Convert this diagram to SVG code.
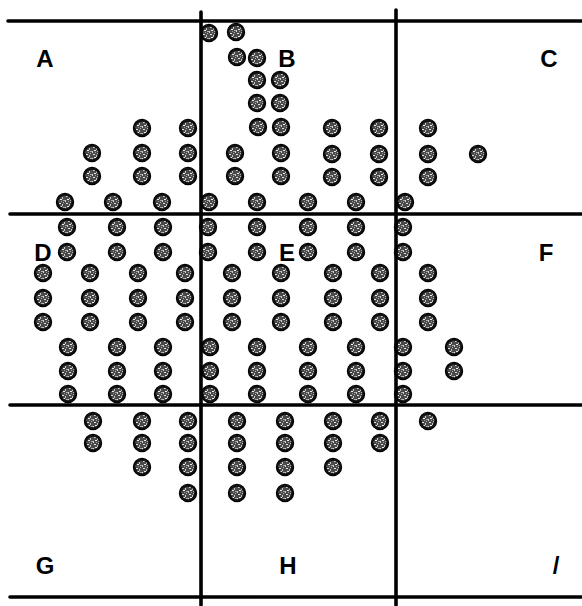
<svg xmlns="http://www.w3.org/2000/svg" xmlns:xlink="http://www.w3.org/1999/xlink" width="582" height="606" viewBox="0 0 582 606">
<defs>
<style>
.ln{stroke:#000;stroke-width:3.6;stroke-linecap:round;fill:none}
.lbl{font-family:"Liberation Sans",Arial,sans-serif;font-weight:bold;font-size:24px;fill:#000;text-anchor:middle}
.rim{fill:#111;stroke:#000;stroke-width:1.2}
.spk{fill:url(#speck)}
</style>
<pattern id="speck" width="7" height="7" patternUnits="userSpaceOnUse">
<rect x="0" y="0" width="7" height="7" fill="#4a4a4a"/>
<rect x="1" y="1" width="2" height="1" fill="#e0e0e0"/>
<rect x="4" y="2" width="1" height="2" fill="#c8c8c8"/>
<rect x="2" y="4" width="2" height="1" fill="#f0f0f0"/>
<rect x="5" y="5" width="2" height="1" fill="#aaa"/>
<rect x="0" y="5" width="1" height="2" fill="#d0d0d0"/>
<rect x="5" y="0" width="1" height="1" fill="#bbb"/>
<rect x="3" y="6" width="1" height="1" fill="#999"/>
</pattern>
<g id="dot"><circle class="rim" r="8.6"/><circle class="spk" r="6.3"/></g>
</defs>
<rect width="582" height="606" fill="#fff"/>
<g id="dots">
<use href="#dot" x="209" y="33"/><use href="#dot" x="236" y="32"/>
<use href="#dot" x="237" y="57"/><use href="#dot" x="257" y="58"/>
<use href="#dot" x="257" y="80"/><use href="#dot" x="280" y="80"/>
<use href="#dot" x="257" y="103"/><use href="#dot" x="280" y="103"/>
<use href="#dot" x="142" y="128"/><use href="#dot" x="188" y="128"/><use href="#dot" x="258" y="127"/><use href="#dot" x="281" y="127"/><use href="#dot" x="332" y="128"/><use href="#dot" x="379" y="128"/><use href="#dot" x="428" y="128"/>
<use href="#dot" x="92" y="153"/><use href="#dot" x="142" y="153"/><use href="#dot" x="188" y="153"/><use href="#dot" x="235" y="153"/><use href="#dot" x="281" y="153"/><use href="#dot" x="332" y="154"/><use href="#dot" x="379" y="154"/><use href="#dot" x="428" y="154"/><use href="#dot" x="478" y="154"/>
<use href="#dot" x="92" y="176"/><use href="#dot" x="142" y="176"/><use href="#dot" x="188" y="176"/><use href="#dot" x="235" y="176"/><use href="#dot" x="281" y="176"/><use href="#dot" x="332" y="177"/><use href="#dot" x="379" y="177"/><use href="#dot" x="428" y="177"/>
<use href="#dot" x="65" y="202"/><use href="#dot" x="113" y="202"/><use href="#dot" x="162" y="202"/><use href="#dot" x="209" y="202"/><use href="#dot" x="257" y="202"/><use href="#dot" x="308" y="202"/><use href="#dot" x="356" y="202"/><use href="#dot" x="405" y="202"/>
<use href="#dot" x="67" y="227"/><use href="#dot" x="117" y="227"/><use href="#dot" x="163" y="227"/><use href="#dot" x="208" y="227"/><use href="#dot" x="257" y="227"/><use href="#dot" x="308" y="227"/><use href="#dot" x="356" y="227"/><use href="#dot" x="403" y="227"/>
<use href="#dot" x="67" y="252"/><use href="#dot" x="117" y="252"/><use href="#dot" x="163" y="252"/><use href="#dot" x="208" y="252"/><use href="#dot" x="257" y="252"/><use href="#dot" x="308" y="252"/><use href="#dot" x="356" y="252"/><use href="#dot" x="403" y="252"/>
<use href="#dot" x="43" y="273"/><use href="#dot" x="90" y="273"/><use href="#dot" x="138" y="273"/><use href="#dot" x="185" y="273"/><use href="#dot" x="232" y="273"/><use href="#dot" x="281" y="273"/><use href="#dot" x="333" y="273"/><use href="#dot" x="380" y="273"/><use href="#dot" x="428" y="273"/>
<use href="#dot" x="43" y="298"/><use href="#dot" x="90" y="298"/><use href="#dot" x="138" y="298"/><use href="#dot" x="185" y="298"/><use href="#dot" x="232" y="298"/><use href="#dot" x="281" y="298"/><use href="#dot" x="333" y="298"/><use href="#dot" x="380" y="298"/><use href="#dot" x="428" y="298"/>
<use href="#dot" x="43" y="322"/><use href="#dot" x="90" y="322"/><use href="#dot" x="138" y="322"/><use href="#dot" x="185" y="322"/><use href="#dot" x="232" y="322"/><use href="#dot" x="281" y="322"/><use href="#dot" x="333" y="322"/><use href="#dot" x="380" y="322"/><use href="#dot" x="428" y="322"/>
<use href="#dot" x="68" y="347"/><use href="#dot" x="117" y="347"/><use href="#dot" x="163" y="347"/><use href="#dot" x="210" y="347"/><use href="#dot" x="257" y="347"/><use href="#dot" x="308" y="347"/><use href="#dot" x="356" y="347"/><use href="#dot" x="403" y="347"/><use href="#dot" x="454" y="347"/>
<use href="#dot" x="68" y="371"/><use href="#dot" x="117" y="371"/><use href="#dot" x="163" y="371"/><use href="#dot" x="210" y="371"/><use href="#dot" x="257" y="371"/><use href="#dot" x="308" y="371"/><use href="#dot" x="356" y="371"/><use href="#dot" x="403" y="371"/><use href="#dot" x="454" y="371"/>
<use href="#dot" x="68" y="394"/><use href="#dot" x="117" y="394"/><use href="#dot" x="163" y="394"/><use href="#dot" x="210" y="394"/><use href="#dot" x="257" y="394"/><use href="#dot" x="308" y="394"/><use href="#dot" x="356" y="394"/><use href="#dot" x="403" y="394"/>
<use href="#dot" x="93" y="421"/><use href="#dot" x="142" y="421"/><use href="#dot" x="188" y="421"/><use href="#dot" x="237" y="421"/><use href="#dot" x="285" y="421"/><use href="#dot" x="333" y="421"/><use href="#dot" x="380" y="421"/><use href="#dot" x="428" y="421"/>
<use href="#dot" x="93" y="443"/><use href="#dot" x="142" y="443"/><use href="#dot" x="188" y="443"/><use href="#dot" x="237" y="443"/><use href="#dot" x="285" y="443"/><use href="#dot" x="333" y="443"/><use href="#dot" x="380" y="443"/>
<use href="#dot" x="142" y="467"/><use href="#dot" x="188" y="467"/><use href="#dot" x="237" y="467"/><use href="#dot" x="285" y="467"/><use href="#dot" x="333" y="467"/>
<use href="#dot" x="188" y="493"/><use href="#dot" x="237" y="493"/><use href="#dot" x="285" y="493"/>
</g>
<g id="grid">
<line class="ln" x1="8" y1="21" x2="582" y2="21"/>
<line class="ln" x1="10" y1="214" x2="582" y2="214"/>
<line class="ln" x1="10" y1="405" x2="582" y2="405"/>
<line class="ln" x1="10" y1="597" x2="582" y2="597"/>
<line class="ln" x1="201" y1="12" x2="201" y2="605"/>
<line class="ln" x1="396" y1="10" x2="396" y2="605"/>
</g>
<g id="label-A"><text class="lbl" x="45" y="67">A</text></g>
<g id="label-B"><text class="lbl" x="287" y="67">B</text></g>
<g id="label-C"><text class="lbl" x="549" y="67">C</text></g>
<g id="label-D"><text class="lbl" x="43" y="261">D</text></g>
<g id="label-E"><text class="lbl" x="287" y="261">E</text></g>
<g id="label-F"><text class="lbl" x="546" y="261">F</text></g>
<g id="label-G"><text class="lbl" x="45" y="574">G</text></g>
<g id="label-H"><text class="lbl" x="288" y="574">H</text></g>
<g id="label-I"><text class="lbl" x="556" y="574">/</text></g>
</svg>
